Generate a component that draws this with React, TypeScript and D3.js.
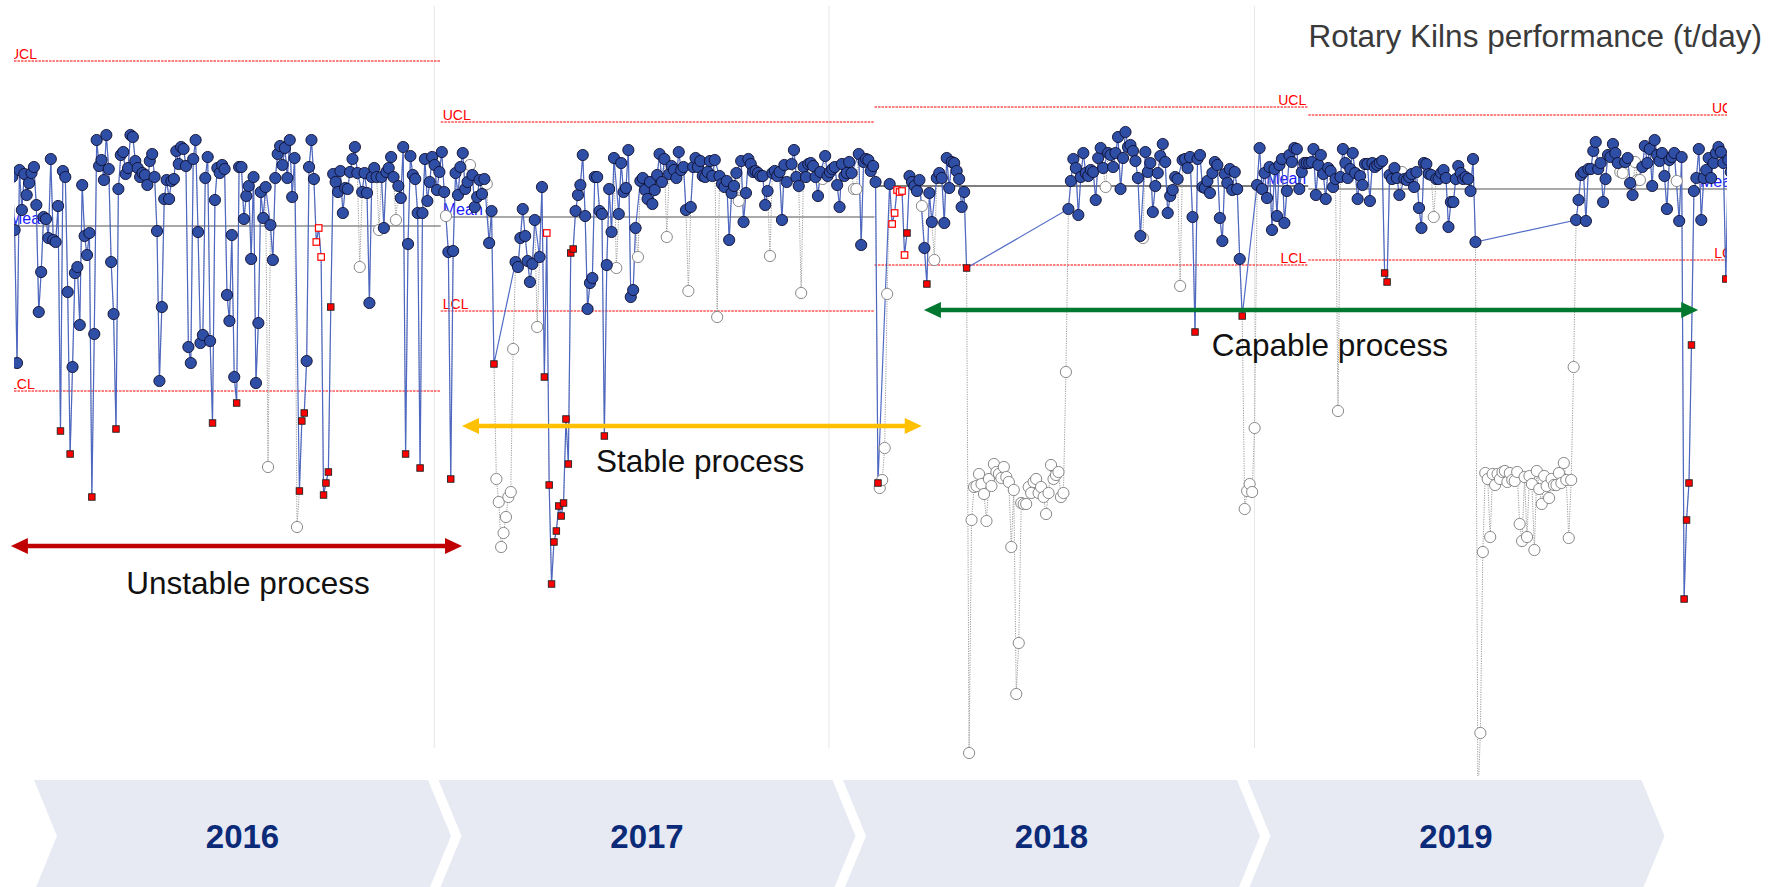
import React from 'react';
import * as d3 from 'd3';

// point status codes: excluded from limits, rule flag (hollow), out of control
const EX = 'x';
const HL = 'h';
const RD = 'r';
type Pt = number | [number, string];
const ex = (...vs: number[]): Pt[] => vs.map((v) => [v, EX] as Pt);

// daily output, t/day
const kiln2016: Pt[] = [
  623, 570, 437, 630, 590, 626, 605, 617, 627, 633,
  595, 488, 528, 583, 581, 562, 641, 560, 558, 594,
  369, 629, 623, 508, 346, 433, 527, 533, 475, 615,
  564, 545, 567, 303, 466, 660, 634, 640, 620, 665,
  631, 538, 486, 371, 611, 645, 648, 626, 632, 665,
  663, 639, 632, 623, 627, 625, 615, 639, 646, 623,
  569, 419, 493, 601, 620, 601, 619, 621, 649, 636,
  653, 651, 634, 453, 437, 641, 660, 568, 457, 465,
  622, 643, 459, 377, 600, 632, 627, 635, 631, 505,
  479, 565, 423, 397, 633, 633, 581, 604, 614, 541,
  623, 417, 477, 608, 582, 613, [333, EX], 575, 540, 622,
  646, 654, 635, 652, 622, 660, 603, 642, [273, EX], 309,
  379, 387, 439, 633, 660, 621, [558, HL], [572, HL], [543, HL], 305,
  317, 328, [493, RD], 626, 618, 608, 629, 587, 612, 611,
  628, 641, 653, 627, [533, EX], 608, 627, 607, 497, 623,
  632, 623, [570, EX], 623, 572, 628, 632, 643, 623, [580, EX],
  614, 602, 653, 346, 556, 644, 625, 621, 587, 332,
  587, 641, 599, 618, 643, 635, 610, 628, 648, 608,
];

const kiln2017: Pt[] = [
  [584, EX], 548, 321, 549, 627, 605, 633, 647, 611, 618,
  [635, EX], 625, 593, 603, 620, 606, 621, [616, EX], 557, 589,
  436, ...ex(321, 298, 253, 267, 283, 303, 308, 451), 538,
  533, 562, 591, 564, 539, 518, 536, 580, [473, EX], 543,
  613, 423, [567, HL], 315, 216, 258, 269, 294, 284, 297,
  381, 336, [547, RD], [551, RD], 589, 605, 615, 645, 584, 491,
  517, 522, 623, 623, 589, 586, 364, 535, 611, 568,
  642, [532, EX], 586, 637, 608, 612, 650, 503, 510, 572,
  [543, EX], 619, 622, 610, 601, 618, 596, 610, 625, 646,
  618, 641, [563, EX], 626, 634, 630, 622, 648, 630, 633,
  590, [509, EX], 593, 633, 642, 633, 639, 624, 623, 628,
  639, 624, 640, [483, EX], 624, 616, 613, 619, 560, 607,
  614, 627, [599, EX], 639, 578, 607, 641, 636, 628, 629,
  627, 624, 624, 595, 609, [544, EX], 627, 629, 624, 628,
  580, 635, 618, [625, EX], 636, 650, 623, 614, [507, EX], 633,
  623, 636, 637, 634, 623, 604, 628, [621, EX], 644, 624,
  628, 631, 633, 615, 593, 636, 624, 627, 638, 627,
  [611, EX], [611, EX], 646, 555, 638, 641, 640, 629, 634, 618,
  317,
];

const kiln2018: Pt[] = [
  ...ex(312, 320, 352, 506), 616, [576, HL], [587, HL], [610, HL], [608, HL], [609, HL],
  [545, HL], [567, RD], 624, 618, 614, 609, 620, [594, EX], 552, 516,
  607, 578, [540, EX], 622, 627, 622, 577, 642, 612, 638,
  637, 629, 621, 593, 608, 532,
  ...ex(47, 280, 313, 314, 326, 316, 306, 279, 321, 314,
    336, 328, 326, 322, 333, 323, 318, 253, 310, 106,
    157, 297, 296, 296, 313, 307, 318, 321, 307, 313,
    303, 286, 307, 335, 321, 325, 328, 303, 307, 428),
  591, 619, 641, 632, 585, 623, 647, 627, 624, 630,
  628, 600, 642, 652, 632, [613, EX], 647, 645, 633,
  647, 663, 611, 642, 668, 653, 655, 649, 639, 622,
  564, [562, EX], 648, 628, 637, 588, 614, 627, 644, 656,
  638, 587, 604, 610, 623, 621, [514, EX], 640, 641, 632,
  643, 583, 468, 641, 645, 613, 612, 619, 607, 627,
  638, 635, 582, 559, 626, 617, 631, 610, 628, 611,
  541, 484, ...ex(291, 309, 316, 308, 372), 615, 652, 611,
  627, 602, 633, 570, 631, 584, 635, 641, 577, 609,
  645, 638, 652, 651, 611, 628, 637, 637, 637, 638,
];

const kiln2019: Pt[] = [
  651, 605, 635, 645, 626, 601, 632, 629, 613, 621,
  [389, EX], 623, 651, 637, 622, 631, 647, 627, 601, 624,
  615, 636, 636, 599, 637, 633, 635, 637, 639, 527,
  518, 625, 621, 632, 622, 605, [628, EX], 621, 620, 623,
  626, 613, 628, 592, 572, 637, 636, 626, 625, [583, EX],
  621, 621, 627, 630, 622, 573, 598, 598, 621, 634,
  627, 621, 623, 621, 609, 641, 558,
  ...ex(0, 67, 248, 327, 321, 263, 326, 315, 326, 321,
    328, 329, 318, 327, 320, 319, 328, 276, 259, 323,
    263, 324, 316, 250, 329, 311, 296, 324, 314, 302,
    321, 315, 315, 327, 317, 337, 320, 262, 320, 433),
  580, 600, 625, 628, 579, 631, 631, 649, 658, 631,
  637, 598, 621, 645, 643, 656, 647, 637, [628, EX], [627, EX],
  638, 642, 617, 605, [638, EX], [620, EX], [620, EX], 633, 654, 637,
  651, 614, 660, 645, 639, 647, 624, 591, 640, 643,
  647, [619, EX], 579, 643, 201, 280, 317, 455, 609, 622,
  651, 580, 622, 630, 642, 622, 637, 647, 653, 648,
  637, 521, 640, 628, 645, 633, 618, 641, 630, 626,
];

const years = ['2016', '2017', '2018', '2019'];
const uclByYear = [739, 678, 693, 685];
const meanByYear = [574, 583, 614, 611];
const lclByYear = [409, 489, 535, 540];
const gridBreaks = [0.985, 1.895, 2.876];

const phaseLabels = ['Unstable process', 'Stable process', 'Capable process'];
const phaseFrom = [0.009, 1.049, 2.114];
const phaseTo = [1.049, 2.109, 3.899];
const phaseLevel = [254, 374, 490];
const phaseTextAt = [0.5556, 1.598, 3.05];
const phaseTextLevel = [206, 328, 444];

const FONT = '"Liberation Sans", Arial, sans-serif';
const phaseColors = ['#C00000', '#FFC000', '#00782F'];
const meanColors = ['#555555', '#555555', '#000000', '#555555'];

export default function App() {
  const W = 1778;
  const H = 887;
  const x = d3.scaleLinear().domain([0, 4]).range([7, 1742]);
  const y = d3.scaleLinear().domain([0, 800]).range([800, 0]);
  const chev = d3.scaleLinear().domain([0, 4]).range([34, 1652]);
  const series = [kiln2016, kiln2017, kiln2018, kiln2019];

  const pts = series.flatMap((arr, k) =>
    arr.map((p, i) => {
      const v = Array.isArray(p) ? p[0] : p;
      let s = Array.isArray(p) ? p[1] : '';
      if (!s) s = v < lclByYear[k] || v > uclByYear[k] ? RD : 'b';
      return { v, s, cx: x(k + 0.012 + (i / (arr.length - 1)) * 0.996), cy: y(v) };
    })
  );
  const line = d3
    .line<{ cx: number; cy: number }>()
    .x((d) => d.cx)
    .y((d) => d.cy);
  const greyPath = line(pts) || '';
  const bluePath = line(pts.filter((p) => p.s !== EX)) || '';

  const chevW = 394;
  const slant = 23;
  const chevPath = (l: number) => {
    const r = l + chevW;
    return `M${l},780H${r}L${r + slant},836L${r},892H${l}L${l + slant},836Z`;
  };

  const limitText = (k: number, level: number, label: string, color: string, size: number) => {
    const left = k < 2;
    return (
      <text
        key={label + k}
        x={left ? x(k) + 2 : x(k + 1) - 2}
        y={y(level) - 2}
        textAnchor={left ? 'start' : 'end'}
        fontSize={size}
        fill={color}
        fontFamily={FONT}
      >
        {label}
      </text>
    );
  };

  const sq = 6.5;

  return (
    <div style={{ position: 'absolute', left: 0, top: 0 }}>
      <svg width={W} height={H} style={{ display: 'block', background: '#fff' }}>
        <defs>
          <clipPath id="plot">
            <rect x={14} y={0} width={1713} height={776} />
          </clipPath>
        </defs>

        {gridBreaks.map((g) => (
          <line key={g} x1={x(g)} x2={x(g)} y1={6} y2={748} stroke="#e6e6e6" strokeWidth={1} />
        ))}

        <g clipPath="url(#plot)">
          {years.map((yr, k) => (
            <g key={yr}>
              <line x1={x(k)} x2={x(k + 1)} y1={y(uclByYear[k])} y2={y(uclByYear[k])}
                stroke="#ff0000" strokeWidth={1} strokeDasharray="2.5 1" />
              <line x1={x(k)} x2={x(k + 1)} y1={y(lclByYear[k])} y2={y(lclByYear[k])}
                stroke="#ff0000" strokeWidth={1} strokeDasharray="2.5 1" />
              <line x1={x(k)} x2={x(k + 1)} y1={y(meanByYear[k])} y2={y(meanByYear[k])}
                stroke={meanColors[k]} strokeWidth={1.2} />
              {limitText(k, uclByYear[k], 'UCL', '#ff0000', 14)}
              {limitText(k, lclByYear[k], 'LCL', '#ff0000', 14)}
              {limitText(k, meanByYear[k], 'Mean', '#1a1aff', 16)}
            </g>
          ))}

          <path d={greyPath} fill="none" stroke="#9c9c9c" strokeWidth={1} strokeDasharray="1.2 1.2" />
          <path d={bluePath} fill="none" stroke="#3f5cc0" strokeWidth={1.2} strokeOpacity={0.9} />

          {pts.filter((p) => p.s === EX).map((p, i) => (
            <circle key={'e' + i} cx={p.cx} cy={p.cy} r={5.6} fill="#fff" stroke="#8a8a8a" strokeWidth={1} />
          ))}
          {pts.filter((p) => p.s === 'b').map((p, i) => (
            <circle key={'b' + i} cx={p.cx} cy={p.cy} r={5.6} fill="#2f4ea6" stroke="#101030" strokeWidth={0.9} />
          ))}
          {pts.filter((p) => p.s === HL).map((p, i) => (
            <rect key={'h' + i} x={p.cx - sq / 2} y={p.cy - sq / 2} width={sq} height={sq}
              fill="#fff" stroke="#ff0000" strokeWidth={1.2} />
          ))}
          {pts.filter((p) => p.s === RD).map((p, i) => (
            <rect key={'r' + i} x={p.cx - sq / 2} y={p.cy - sq / 2} width={sq} height={sq}
              fill="#ff0000" stroke="#222" strokeWidth={0.9} />
          ))}
        </g>

        {phaseLabels.map((lab, i) => {
          const x1 = x(phaseFrom[i]);
          const x2 = x(phaseTo[i]);
          const yy = y(phaseLevel[i]);
          const hl = 17;
          const hw = 8;
          const c = phaseColors[i];
          return (
            <g key={lab}>
              <line x1={x1 + hl - 1} x2={x2 - hl + 1} y1={yy} y2={yy} stroke={c} strokeWidth={4.5} />
              <path d={`M${x1},${yy}L${x1 + hl},${yy - hw}L${x1 + hl},${yy + hw}Z`} fill={c} />
              <path d={`M${x2},${yy}L${x2 - hl},${yy - hw}L${x2 - hl},${yy + hw}Z`} fill={c} />
              <text x={x(phaseTextAt[i])} y={y(phaseTextLevel[i])} textAnchor="middle"
                fontSize={31.5} fontFamily={FONT} fill="#111">
                {lab}
              </text>
            </g>
          );
        })}

        <text x={1762} y={47} textAnchor="end" fontSize={31.5} fontFamily={FONT} fill="#3a3a3a">
          Rotary Kilns performance (t/day)
        </text>

        {years.map((yr, k) => (
          <g key={'c' + yr}>
            <path d={chevPath(chev(k))} fill="#e7eaf3" />
            <text x={chev(k) + chevW / 2 + slant / 2} y={848} textAnchor="middle" fontSize={33}
              fontWeight="bold" fontFamily={FONT} fill="#0b2a78">
              {yr}
            </text>
          </g>
        ))}
      </svg>
    </div>
  );
}
